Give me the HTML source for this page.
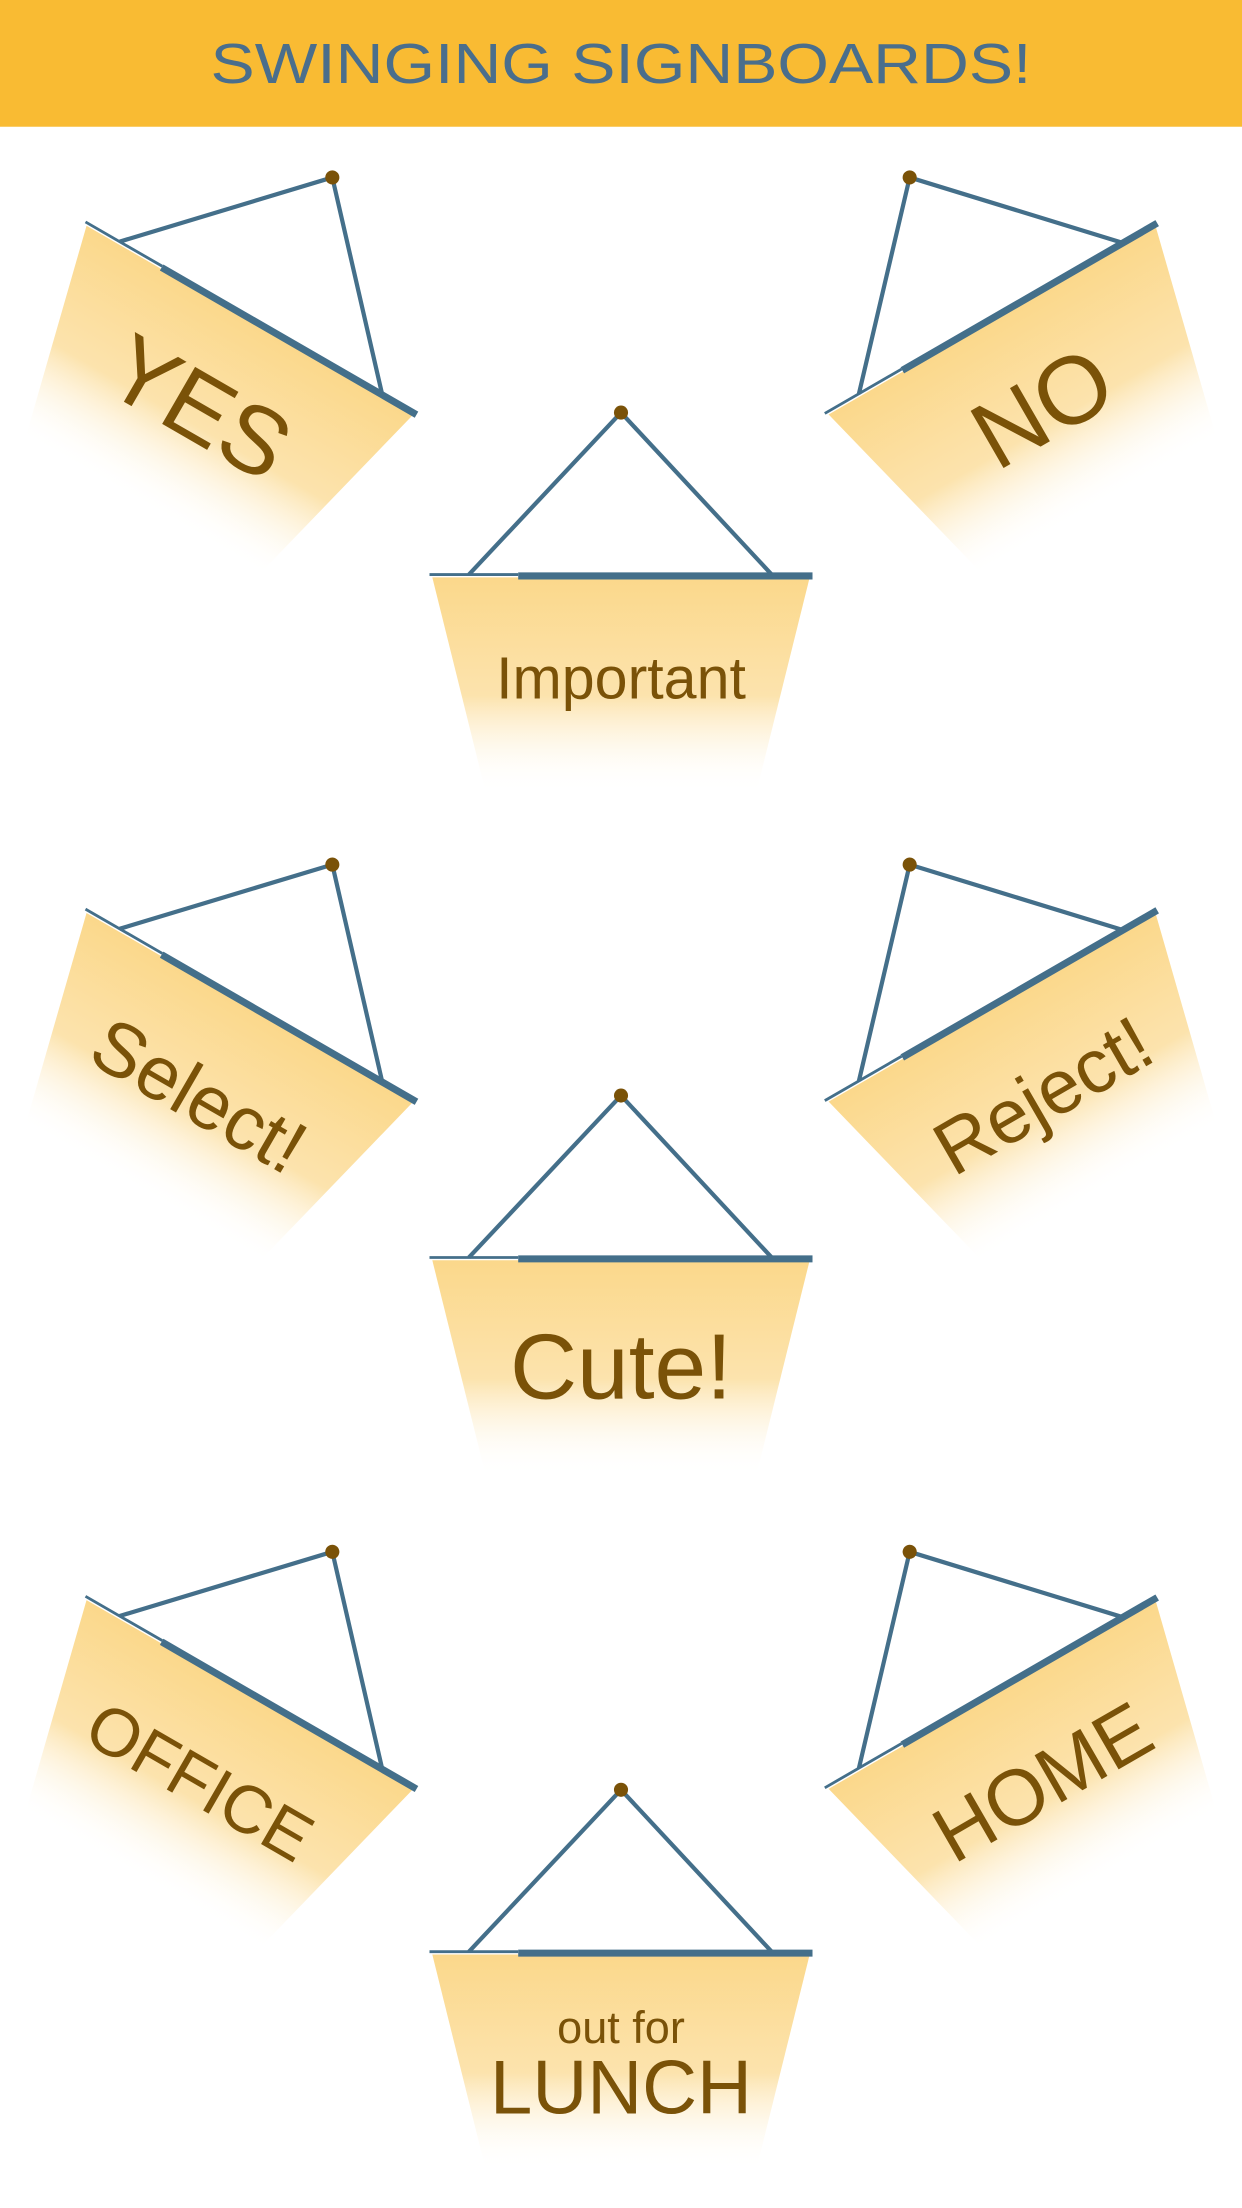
<!DOCTYPE html>
<html><head><meta charset="utf-8"><style>
html,body{margin:0;padding:0;background:#fff;}
svg{display:block;}
text{font-family:"Liberation Sans",sans-serif;fill:#7a5208;}
</style></head><body>
<svg width="1242" height="2208" viewBox="0 0 882 1568" xmlns="http://www.w3.org/2000/svg">
<defs>
<linearGradient id="bg" x1="0" y1="0" x2="0" y2="1">
<stop offset="0" stop-color="#fbd88b"/>
<stop offset="0.55" stop-color="#fce3ad"/>
<stop offset="1" stop-color="#fff" stop-opacity="0"/>
</linearGradient>
<g id="sign">
<polygon points="-134,117 134,117 96,270 -96,270" fill="url(#bg)"/>
<line x1="0" y1="0" x2="-108" y2="115" stroke="#446f8a" stroke-width="3"/>
<line x1="0" y1="0" x2="107" y2="115" stroke="#446f8a" stroke-width="3"/>
<line x1="-136" y1="115" x2="-73" y2="115" stroke="#446f8a" stroke-width="2"/>
<line x1="-73" y1="116" x2="136" y2="116" stroke="#446f8a" stroke-width="5"/>
<circle cx="0" cy="0" r="5" fill="#7a5208"/>
</g>
</defs>
<rect x="0" y="0" width="882" height="90" fill="#f9bb33"/>
<text x="441" y="59" text-anchor="middle" font-size="40" textLength="583" lengthAdjust="spacingAndGlyphs" style="fill:#4a6e8c">SWINGING SIGNBOARDS!</text>

<g transform="translate(236,126) rotate(30)"><use href="#sign"/><text x="0" y="212" text-anchor="middle" font-size="68">YES</text></g>
<g transform="translate(646,126) rotate(-30)"><use href="#sign"/><text x="0" y="212" text-anchor="middle" font-size="68">NO</text></g>
<g transform="translate(441,293)"><use href="#sign"/><text x="0" y="203" text-anchor="middle" font-size="42">Important</text></g>

<g transform="translate(236,614) rotate(30)"><use href="#sign"/><text x="0" y="208" text-anchor="middle" font-size="54">Select!</text></g>
<g transform="translate(646,614) rotate(-30)"><use href="#sign"/><text x="0" y="208" text-anchor="middle" font-size="54">Reject!</text></g>
<g transform="translate(441,778)"><use href="#sign"/><text x="0" y="215" text-anchor="middle" font-size="66">Cute!</text></g>

<g transform="translate(236,1102) rotate(30)"><use href="#sign"/><text x="0" y="205" text-anchor="middle" font-size="48">OFFICE</text></g>
<g transform="translate(646,1102) rotate(-30)"><use href="#sign"/><text x="0" y="208" text-anchor="middle" font-size="56">HOME</text></g>
<g transform="translate(441,1271)"><use href="#sign"/><text x="0" y="180" text-anchor="middle" font-size="32">out for</text><text x="0" y="230" text-anchor="middle" font-size="54">LUNCH</text></g>
</svg>
</body></html>
